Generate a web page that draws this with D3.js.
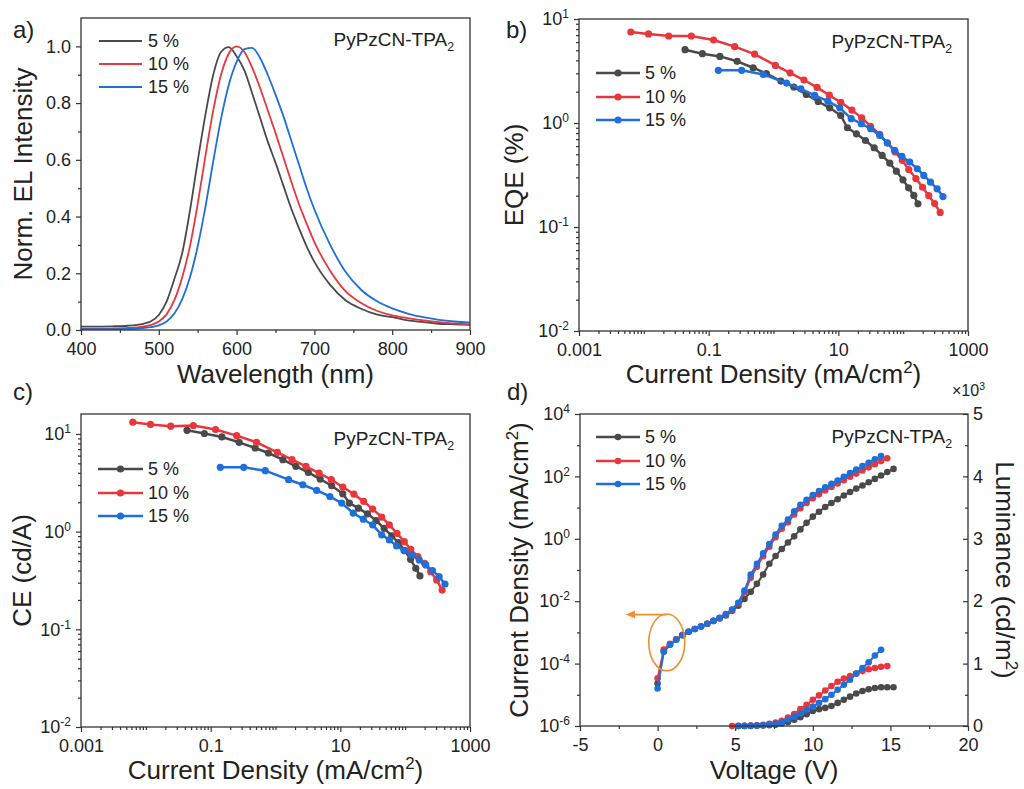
<!DOCTYPE html>
<html lang="en">
<head>
<meta charset="UTF-8">
<title>PyPzCN-TPA2 OLED characteristics</title>
<style>
  body { margin: 0; background: #fff; }
  svg { display: block; font-family: Arial, "Liberation Sans", sans-serif; }
  .frame { fill: none; stroke: #333; stroke-width: 1.3px; }
  .axis path { display: none; }
  .axis line { stroke: #333; stroke-width: 1.2px; }
  .axis text { font-size: 18px; fill: #222; font-family: Arial, "Liberation Sans", sans-serif; }
  .title { font-size: 26px; fill: #222; }
  .lab { font-size: 24px; fill: #222; }
  .leg { font-size: 18px; fill: #222; }
  .mat { font-size: 19px; fill: #222; }
</style>
</head>
<body>
<svg width="1024" height="789"></svg>
<script src="https://d3js.org/d3.v7.min.js"></script>
<script>
// ---- a) EL spectra ----
const wavelength = [400,420,440,460,480,490,500,510,520,530,540,550,560,570,580,590,600,610,620,630,640,650,660,670,680,690,700,720,740,760,780,800,820,840,860,880,900];
const el5  = [0.012,0.012,0.013,0.015,0.022,0.031,0.053,0.10,0.18,0.27,0.42,0.595,0.76,0.90,0.98,0.997,0.965,0.915,0.835,0.75,0.665,0.59,0.51,0.43,0.36,0.295,0.24,0.16,0.105,0.075,0.055,0.045,0.034,0.028,0.022,0.02,0.018];
const el10 = [0.004,0.004,0.005,0.007,0.012,0.018,0.03,0.055,0.105,0.185,0.295,0.445,0.615,0.775,0.90,0.975,1.0,0.98,0.925,0.855,0.775,0.695,0.61,0.525,0.445,0.375,0.31,0.21,0.137,0.095,0.068,0.052,0.042,0.034,0.028,0.023,0.02];
const el15 = [0.003,0.003,0.003,0.004,0.007,0.01,0.016,0.03,0.058,0.108,0.185,0.295,0.435,0.595,0.745,0.865,0.945,0.99,0.995,0.96,0.90,0.83,0.755,0.67,0.585,0.50,0.425,0.302,0.205,0.142,0.102,0.076,0.058,0.045,0.036,0.03,0.026];

// ---- b), c) efficiency vs current density (mA/cm2) ----
const j5   = [0.0432,0.080,0.149,0.275,0.486,0.776,1.30,2.06,3.21,4.89,7.35,10.9,13.8,19.0,26.2,35.7,47.4,62.2,78.6,99.3,121,146,169];
const eqe5 = [5.07,4.64,4.37,3.92,3.40,2.98,2.53,2.22,1.88,1.61,1.40,1.18,0.90,0.787,0.679,0.578,0.488,0.411,0.344,0.284,0.238,0.201,0.167];
const ce5  = [10.9,10.1,9.31,8.21,7.18,6.38,5.45,4.66,4.04,3.45,2.95,2.44,1.96,1.74,1.52,1.30,1.08,0.905,0.773,0.640,0.521,0.421,0.352];
const j10   = [0.0063,0.0118,0.0242,0.054,0.119,0.252,0.51,1.07,1.8,2.95,4.7,7.26,10.9,16.2,22.9,31.5,43.5,57,74.8,97,122,157,199,248,306,372];
const eqe10 = [7.5,7.18,6.86,6.86,6.28,5.42,4.6,3.58,3.04,2.59,2.2,1.85,1.58,1.33,1.12,0.93,0.776,0.645,0.528,0.436,0.357,0.292,0.241,0.2,0.168,0.138];
const ce10  = [13.2,12.5,12.0,12.2,11.1,9.6,8.2,6.48,5.45,4.66,3.98,3.40,2.86,2.42,2.04,1.70,1.41,1.17,0.96,0.79,0.66,0.555,0.474,0.389,0.32,0.252];
const j15   = [0.141,0.323,0.695,1.59,2.64,4.32,6.90,10.5,15.8,22.6,31.5,43.5,57.0,73.9,95.7,126,165,208,264,334,411];
const eqe15 = [3.21,3.21,2.93,2.42,2.13,1.84,1.62,1.40,1.10,0.984,0.881,0.76,0.641,0.545,0.477,0.421,0.363,0.313,0.27,0.233,0.196];
const ce15  = [4.55,4.55,4.21,3.40,3.02,2.64,2.29,1.96,1.55,1.34,1.17,0.927,0.823,0.714,0.640,0.578,0.513,0.456,0.399,0.346,0.291];

// ---- d) J-V-L ----
const voltage = [0,0.4,0.8,1.2,1.6,2.0,2.4,2.8,3.2,3.6,4.0,4.4,4.8,5.2,5.6,6.0,6.4,6.8,7.2,7.6,8.0,8.4,8.8,9.2,9.6,10.0,10.4,10.8,11.2,11.6,12.0,12.4,12.8,13.2,13.6,14.0,14.4,14.8,15.2];
const jv5  = [2.3e-5,2.5e-4,4.1e-4,5.9e-4,8.1e-4,1.05e-3,1.29e-3,1.55e-3,1.9e-3,2.3e-3,2.8e-3,3.5e-3,4.9e-3,7.2e-3,0.0117,0.02,0.036,0.072,0.158,0.28,0.47,0.76,1.2,2.0,3.24,5.13,7.4,10.5,14.1,18.6,24.5,31.6,40.7,51.3,64.6,83.2,107,138,174];
const jv10 = [3.4e-5,2.8e-4,4.3e-4,6.0e-4,8.3e-4,1.05e-3,1.29e-3,1.55e-3,1.9e-3,2.35e-3,2.9e-3,3.7e-3,5.2e-3,8.5e-3,0.019,0.056,0.126,0.275,0.56,1.12,2.09,3.39,6.0,9.5,14.1,20.0,26.9,35.5,45.7,58.9,75.9,97.7,123,155,195,245,309,380];
const jv15 = [1.6e-5,2.4e-4,4.0e-4,5.8e-4,8.1e-4,1.05e-3,1.29e-3,1.55e-3,1.9e-3,2.35e-3,2.95e-3,3.9e-3,5.4e-3,8.9e-3,0.022,0.071,0.158,0.34,0.68,1.38,2.63,4.17,7.6,12.3,17.8,25.1,33.9,44.7,57.5,74.1,97.7,129,166,214,275,355,447];
const lumV5  = [5.2,5.6,6.0,6.4,6.8,7.2,7.6,8.0,8.4,8.8,9.2,9.6,10.0,10.4,10.8,11.2,11.6,12.0,12.4,12.8,13.2,13.6,14.0,14.4,14.8,15.2];
const lum5   = [0,1,2,4,7,12,20,40,65,100,140,190,240,270,290,320,370,420,470,520,560,590,610,620,620,620];
const lumV10 = [4.8,5.2,5.6,6.0,6.4,6.8,7.2,7.6,8.0,8.4,8.8,9.2,9.6,10.0,10.4,10.8,11.2,11.6,12.0,12.4,12.8,13.2,13.6,14.0,14.4,14.8];
const lum10  = [0,3,5,8,13,20,35,55,85,135,190,270,340,420,490,570,640,710,760,800,840,880,910,930,950,960];
const lumV15 = [5.2,5.6,6.0,6.4,6.8,7.2,7.6,8.0,8.4,8.8,9.2,9.6,10.0,10.4,10.8,11.2,11.6,12.0,12.4,12.8,13.2,13.6,14.0,14.4];
const lum15  = [0,2,4,8,13,22,35,60,105,145,200,260,310,370,430,500,580,660,740,840,930,1020,1130,1220];

const series = [
  { name: '5 %',  color: '#4a4a4a', el: el5,  j: j5,  eqe: eqe5,  ce: ce5,  jv: jv5,  lv: lumV5,  lum: lum5 },
  { name: '10 %', color: '#e8373c', el: el10, j: j10, eqe: eqe10, ce: ce10, jv: jv10, lv: lumV10, lum: lum10 },
  { name: '15 %', color: '#1e6fd9', el: el15, j: j15, eqe: eqe15, ce: ce15, jv: jv15, lv: lumV15, lum: lum15 }
];

const boxes = {
  a: { x: 81,  y: 18,  w: 389, h: 312 },
  b: { x: 579, y: 19,  w: 389, h: 312 },
  c: { x: 81,  y: 414, w: 389, h: 313 },
  d: { x: 580, y: 414, w: 388, h: 312 }
};

const svg = d3.select('svg');

// text with super/subscript pieces: parts = ['text', ['2','sup'], ...]
function rich(sel, parts, size) {
  let shift = 0;
  parts.forEach(p => {
    const [txt, kind] = Array.isArray(p) ? p : [p, null];
    const ts = sel.append('tspan').text(txt);
    let target = 0;
    if (kind === 'sup') { target = -size * 0.4; ts.attr('font-size', size * 0.65); }
    if (kind === 'sub') { target = size * 0.25; ts.attr('font-size', size * 0.65); }
    ts.attr('dy', target - shift);
    shift = target;
  });
  return sel;
}

function panel(B) {
  return svg.append('g').attr('transform', `translate(${B.x},${B.y})`);
}

function frame(g, B) {
  g.append('rect').attr('class', 'frame').attr('width', B.w).attr('height', B.h);
}

function axisBottom(g, x, h, major, fmt, minor) {
  if (minor) g.append('g').attr('class', 'axis').attr('transform', `translate(0,${h})`)
    .call(d3.axisBottom(x).tickValues(minor).tickFormat('').tickSize(3));
  return g.append('g').attr('class', 'axis').attr('transform', `translate(0,${h})`)
    .call(d3.axisBottom(x).tickValues(major).tickFormat(fmt).tickSize(5).tickPadding(7));
}

function axisLeft(g, y, major, fmt, minor) {
  if (minor) g.append('g').attr('class', 'axis')
    .call(d3.axisLeft(y).tickValues(minor).tickFormat('').tickSize(3));
  return g.append('g').attr('class', 'axis')
    .call(d3.axisLeft(y).tickValues(major).tickFormat(fmt).tickSize(5).tickPadding(5));
}

function powLabels(axisG) {
  axisG.selectAll('.tick text').each(function (d) {
    const e = Math.round(Math.log10(d));
    const t = d3.select(this).text(null);
    t.append('tspan').text('10');
    t.append('tspan').attr('dy', -7).attr('font-size', 12).text(String(e));
  });
}

function logMinor(lo, hi, skip, max) {
  const v = [];
  for (let e = lo; e < hi; e++) {
    for (let k = 1; k < 10; k++) {
      const t = k * Math.pow(10, e);
      if (t > max * 1.0001) continue;
      if (skip.some(s => Math.abs(s - t) / t < 1e-9)) continue;
      v.push(t);
    }
  }
  return v;
}

function xTitle(B, parts, base) {
  rich(svg.append('text').attr('class', 'title').attr('text-anchor', 'middle')
    .attr('x', B.x + B.w / 2).attr('y', base), parts, 26);
}

function yTitle(x, cy, parts, rot) {
  rich(svg.append('text').attr('class', 'title').attr('text-anchor', 'middle')
    .attr('transform', `translate(${x},${cy}) rotate(${rot})`), parts, 26);
}

function tag(x, y, s) {
  svg.append('text').attr('class', 'lab').attr('x', x).attr('y', y).text(s);
}

function material(B, base) {
  rich(svg.append('text').attr('class', 'mat').attr('text-anchor', 'end')
    .attr('x', B.x + B.w - 16).attr('y', base), ['PyPzCN-TPA', ['2', 'sub']], 19);
}

function legend(x0, x1, tx, rows, withDots, r) {
  series.forEach((s, i) => {
    svg.append('line').attr('x1', x0).attr('x2', x1).attr('y1', rows[i]).attr('y2', rows[i])
      .attr('stroke', s.color).attr('stroke-width', withDots ? 2.6 : 2);
    if (withDots) svg.append('circle').attr('cx', (x0 + x1) / 2).attr('cy', rows[i]).attr('r', r).attr('fill', s.color);
    svg.append('text').attr('class', 'leg').attr('x', tx).attr('y', rows[i]).attr('dy', '0.36em').text(s.name);
  });
}

function dotted(g, xs, ys, x, y, color, r, lw) {
  const pts = xs.map((v, i) => [x(v), y(ys[i])]);
  g.append('path').attr('d', d3.line()(pts)).attr('fill', 'none')
    .attr('stroke', color).attr('stroke-width', lw).attr('stroke-linejoin', 'round');
  g.append('g').selectAll('circle').data(pts).join('circle')
    .attr('cx', d => d[0]).attr('cy', d => d[1]).attr('r', r).attr('fill', color);
}

// ================= a) =================
{
  const B = boxes.a, g = panel(B);
  const x = d3.scaleLinear([400, 900], [0, B.w]);
  const y = d3.scaleLinear([0, 1.1], [B.h, 0]);
  axisBottom(g, x, B.h, [400, 500, 600, 700, 800, 900], d3.format('d'), [450, 550, 650, 750, 850]);
  axisLeft(g, y, [0, 0.2, 0.4, 0.6, 0.8, 1.0], d3.format('.1f'), [0.1, 0.3, 0.5, 0.7, 0.9]);
  const line = d3.line().x((d, i) => x(wavelength[i])).y(d => y(d)).curve(d3.curveMonotoneX);
  series.forEach(s => g.append('path').attr('d', line(s.el)).attr('fill', 'none')
    .attr('stroke', s.color).attr('stroke-width', 1.8));
  frame(g, B);
  legend(99, 142, 148, [41, 64, 87], false);
  material(B, 46);
  tag(13, 38, 'a)');
  xTitle(B, ['Wavelength (nm)'], 383);
  yTitle(32, B.y + B.h / 2, ['Norm. EL Intensity'], -90);
}

// ================= b) & c) =================
function effPanel(B, key, yDomain, labels) {
  const g = panel(B);
  const x = d3.scaleLog([1e-3, 1e3], [0, B.w]);
  const y = d3.scaleLog(yDomain, [B.h, 0]);
  const xMajor = [1e-3, 1e-1, 1e1, 1e3];
  axisBottom(g, x, B.h, xMajor, d3.format('~g'), logMinor(-3, 3, xMajor, 1e3));
  const ya = axisLeft(g, y, labels, d => d, logMinor(-2, 2, labels, yDomain[1]));
  powLabels(ya);
  series.forEach(s => dotted(g, s.j, s[key], x, y, s.color, 3.6, 2.5));
  frame(g, B);
}

effPanel(boxes.b, 'eqe', [1e-2, 1e1], [1e-2, 1e-1, 1e0, 1e1]);
legend(596, 640, 645, [73, 97, 120], true, 3.6);
material(boxes.b, 48);
tag(506, 38, 'b)');
xTitle(boxes.b, ['Current Density (mA/cm', ['2', 'sup'], ')'], 383);
yTitle(523, boxes.b.y + boxes.b.h / 2, ['EQE (%)'], -90);

effPanel(boxes.c, 'ce', [1e-2, 16], [1e-2, 1e-1, 1e0, 1e1]);
legend(98, 143, 148, [469, 493, 516], true, 3.6);
material(boxes.c, 445);
tag(13, 400, 'c)');
xTitle(boxes.c, ['Current Density (mA/cm', ['2', 'sup'], ')'], 779);
yTitle(31, boxes.c.y + boxes.c.h / 2, ['CE (cd/A)'], -90);

// ================= d) =================
{
  const B = boxes.d, g = panel(B);
  const x = d3.scaleLinear([-5, 20], [0, B.w]);
  const y = d3.scaleLog([1e-6, 1e4], [B.h, 0]);
  const yL = d3.scaleLinear([0, 5000], [B.h, 0]);
  axisBottom(g, x, B.h, [-5, 0, 5, 10, 15, 20], d => String(d), [-2.5, 2.5, 7.5, 12.5, 17.5]);
  const yMajor = [1e-6, 1e-4, 1e-2, 1e0, 1e2, 1e4];
  const ya = axisLeft(g, y, yMajor, d => d, [1e-5, 1e-3, 1e-1, 1e1, 1e3]);
  powLabels(ya);
  // right luminance axis, ticks pointing inward
  g.append('g').attr('class', 'axis').attr('transform', `translate(${B.w},0)`)
    .call(d3.axisRight(yL).tickValues([500, 1500, 2500, 3500, 4500]).tickFormat('').tickSize(-3));
  g.append('g').attr('class', 'axis').attr('transform', `translate(${B.w},0)`)
    .call(d3.axisRight(yL).tickValues([0, 1000, 2000, 3000, 4000, 5000]).tickFormat(d => d / 1000).tickSize(-5).tickPadding(5));

  series.forEach(s => dotted(g, voltage.slice(0, s.jv.length), s.jv, x, y, s.color, 3.3, 2));
  series.forEach(s => dotted(g, s.lv, s.lum, x, yL, s.color, 3.3, 2));

  // orange marker: circled J-V branch pointing to the left axis
  const orange = '#f0902a';
  const cx = x(0.59), cy = y(Math.pow(10, -3.32));
  g.append('ellipse').attr('cx', cx).attr('cy', cy)
    .attr('rx', x(0.59 + 1.16) - cx).attr('ry', cy - y(Math.pow(10, -2.41)))
    .attr('fill', 'none').attr('stroke', orange).attr('stroke-width', 1.6);
  const ay = y(Math.pow(10, -2.43));
  const tip = x(-2.04);
  g.append('line').attr('x1', x(0.57)).attr('x2', tip + 7).attr('y1', ay).attr('y2', ay)
    .attr('stroke', orange).attr('stroke-width', 1.6);
  g.append('path').attr('d', `M${tip},${ay} L${tip + 9},${ay - 4} L${tip + 9},${ay + 4} Z`).attr('fill', orange);

  frame(g, B);
}
legend(596, 640, 645, [437, 461, 484], true, 3.3);
material(boxes.d, 443);
tag(507, 400, 'd)');
rich(svg.append('text').attr('x', 952).attr('y', 396).attr('font-size', 16).attr('fill', '#222'),
  ['\u00d710', ['3', 'sup']], 16);
xTitle(boxes.d, ['Voltage (V)'], 779);
yTitle(528, boxes.d.y + boxes.d.h / 2, ['Current Density (mA/cm', ['2', 'sup'], ')'], -90);
yTitle(996, boxes.d.y + boxes.d.h / 2, ['Luminance (cd/m', ['2', 'sup'], ')'], 90);
</script>
</body>
</html>
